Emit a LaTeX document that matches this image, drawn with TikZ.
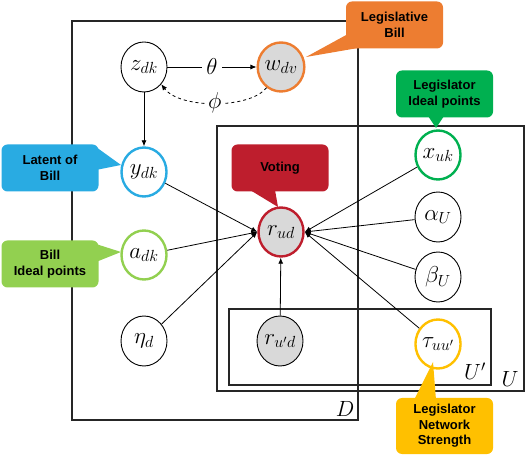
\RequirePackage{fix-cm}
\documentclass[tikz,border=0pt]{standalone}
\usepackage{fontspec}
\setmainfont{Liberation Sans}
\usetikzlibrary{arrows.meta,shapes.geometric,calc}
\definecolor{corange}{HTML}{ED7D31}
\definecolor{cgreen}{HTML}{00B050}
\definecolor{cblue}{HTML}{29ABE2}
\definecolor{cred}{HTML}{BE1E2D}
\definecolor{clgreen}{HTML}{92D050}
\definecolor{cyellow}{HTML}{FFC000}
\definecolor{cgray}{HTML}{D9D9D9}
\tikzset{
  mfont/.style={font=\fontsize{23}{26}\selectfont},
  var/.style={ellipse,draw=black,line width=0.9pt,minimum width=46pt,minimum height=50pt,inner sep=0pt,mfont},
  obs/.style={var,fill=cgray},
  hl/.style={line width=2.4pt,draw=#1,minimum width=45pt,minimum height=49pt},
  plate/.style={draw=black!85,line width=1.1pt},
  edge/.style={-{Latex[length=6pt,width=5pt]},line width=0.8pt},
  callout/.style={fill=#1,rounded corners=6pt,minimum width=97pt,minimum height=47pt,align=center,font=\fontsize{13}{15.5}\selectfont\bfseries,inner sep=2pt},
  platelabel/.style={font=\fontsize{22}{24}\selectfont}
}
\begin{document}
\begin{tikzpicture}[x=1pt,y=1pt]
\useasboundingbox (0,0) rectangle (526,454);
% plates
\draw[plate] (72,34) rectangle (358,433);
\draw[plate] (217,63) rectangle (524,328);
\draw[plate] (229,69) rectangle (491,145);
\node[platelabel] (Dl) at (345,45) {$D$};
\node[platelabel] (Ul) at (510,75) {$U$};
\node[platelabel] (Upl) at (475,83) {$U'$};
% nodes
\node[var] (z) at (144,387) {$z_{dk}$};
\node[obs,hl=corange] (w) at (281,387) {$w_{dv}$};
\node[var,hl=cblue] (y) at (144,282) {$y_{dk}$};
\node[var,hl=clgreen] (a) at (144,199) {$a_{dk}$};
\node[var] (eta) at (144,113) {$\eta_{d}$};
\node[obs,hl=cred] (r) at (281,222) {$r_{ud}$};
\node[obs] (rp) at (280,113) {$r_{u'd}$};
\node[var,hl=cgreen] (x) at (438,299) {$x_{uk}$};
\node[var] (al) at (438,237) {$\alpha_{U}$};
\node[var] (be) at (438,177) {$\beta_{U}$};
\node[var,hl=cyellow] (tau) at (438,110) {$\tau_{uu'}$};
% edges
\draw[edge] (z) -- node[fill=white,inner sep=4pt,mfont]{$\theta$} (w);
\draw[edge,dashed] (w.235) .. controls (250,345) and (180,345) .. node[fill=white,inner sep=3pt,mfont, pos=0.5]{$\phi$} (z.-45);
\draw[edge] (z) -- (y);
\draw[edge] (y) -- (r.west);
\draw[edge] (a) -- (r.west);
\draw[edge] (eta) -- (r.west);
\draw[edge] (x) -- (r.east);
\draw[edge] (al) -- (r.east);
\draw[edge] (be) -- (r.east);
\draw[edge] (tau) -- (r.east);
\draw[edge] (rp) -- (r);
% callouts
\node[callout=corange] (cLB) at (394.5,429) {Legislative\\Bill};
\fill[corange] (348,420) -- (358,406) -- (306,397) -- cycle;
\node[callout=cgreen] (cLI) at (444.5,360) {Legislator\\Ideal points};
\fill[cgreen] (428,338) -- (444,338) -- (436,326) -- cycle;
\node[callout=cblue] (cLat) at (50,286) {Latent of\\Bill};
\fill[cblue] (96,307) -- (96,284) -- (121,289) -- cycle;
\node[callout=cred] (cV) at (280,286) {Voting};
\fill[cred] (250,264) -- (275,264) -- (278,247) -- cycle;
\node[callout=clgreen] (cBI) at (50,190) {Bill\\Ideal points};
\fill[clgreen] (96,210) -- (96,192) -- (121,202) -- cycle;
\node[callout=cyellow,minimum height=56pt] (cNS) at (444.5,28) {Legislator\\Network\\Strength};
\fill[cyellow] (414,54) -- (436,54) -- (433,92) -- cycle;
\end{tikzpicture}
\end{document}
